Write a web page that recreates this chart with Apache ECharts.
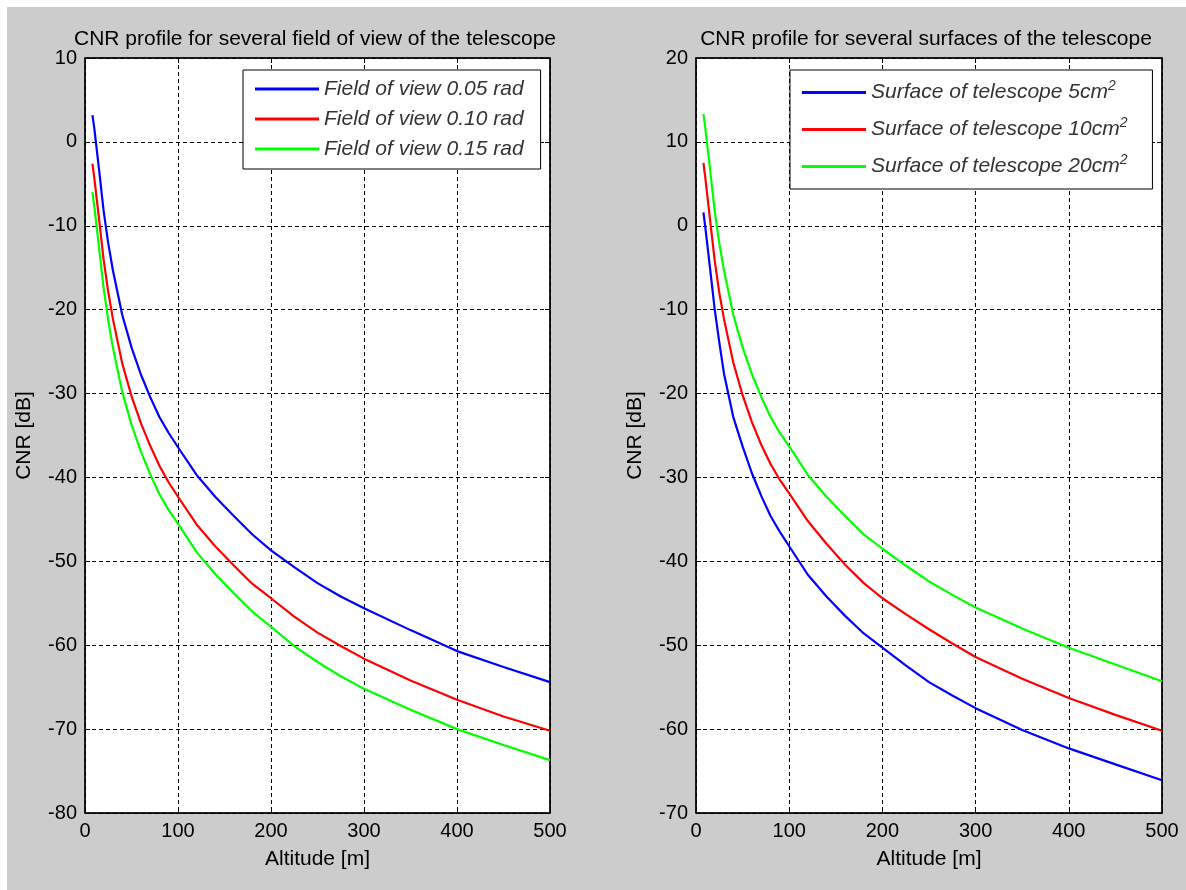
<!DOCTYPE html>
<html>
<head>
<meta charset="utf-8">
<title>CNR profile</title>
<script src="https://cdn.jsdelivr.net/npm/echarts@6/dist/echarts.min.js"></script>
<style>
  body { margin: 0; background: #fff; }
  #bg { position: absolute; left: 7px; top: 7px; width: 1179px; height: 883px; background: #cccccc; }
  #main { position: absolute; left: 0; top: 0; width: 1186px; height: 890px; }
</style>
</head>
<body>
<div id="bg"></div>
<div id="main"></div>
<script>
// altitude samples [m]
const altitude = [8, 10, 15, 20, 25, 30, 40, 50, 60, 70, 80, 90, 100, 120, 140, 160, 180, 200, 225, 250, 275, 300, 350, 400, 450, 500];

// left plot : CNR [dB] for several fields of view
const fov005 = [3.2, 1.6, -3.2, -8.2, -12.1, -15.3, -20.6, -24.5, -27.7, -30.4, -32.8, -34.7, -36.4, -39.7, -42.3, -44.6, -46.8, -48.7, -50.7, -52.6, -54.2, -55.6, -58.2, -60.7, -62.6, -64.4];
const fov010 = [-2.6, -4.3, -9.1, -14.0, -17.9, -21.1, -26.4, -30.3, -33.5, -36.2, -38.6, -40.6, -42.3, -45.6, -48.2, -50.5, -52.7, -54.4, -56.6, -58.5, -60.1, -61.6, -64.2, -66.5, -68.5, -70.2];
const fov015 = [-6.0, -7.7, -12.5, -17.4, -21.3, -24.5, -29.8, -33.7, -36.9, -39.6, -42.0, -43.9, -45.5, -48.9, -51.5, -53.8, -56.0, -57.8, -60.1, -62.0, -63.7, -65.2, -67.7, -70.0, -71.9, -73.7];

// right plot : CNR [dB] for several telescope surfaces
const surf5 = [1.6, -0.2, -5.0, -9.9, -13.9, -17.6, -22.8, -26.3, -29.5, -32.2, -34.6, -36.5, -38.2, -41.6, -44.2, -46.5, -48.6, -50.3, -52.4, -54.4, -56.0, -57.5, -60.1, -62.3, -64.2, -66.1];
const surf10 = [7.5, 5.7, 0.8, -4.1, -8.0, -11.1, -16.3, -20.2, -23.4, -26.1, -28.4, -30.3, -31.9, -35.2, -37.9, -40.4, -42.6, -44.4, -46.3, -48.1, -49.8, -51.4, -54.0, -56.3, -58.3, -60.2];
const surf20 = [13.3, 11.6, 6.8, 1.8, -2.1, -5.3, -10.6, -14.5, -17.7, -20.4, -22.8, -24.7, -26.3, -29.7, -32.3, -34.6, -36.8, -38.5, -40.5, -42.4, -44.0, -45.5, -48.0, -50.3, -52.3, -54.3];

const fovNames = ['Field of view 0.05 rad', 'Field of view 0.10 rad', 'Field of view 0.15 rad'];
const surfNames = ['Surface of telescope 5cm', 'Surface of telescope 10cm', 'Surface of telescope 20cm'];
const colors = ['#0000ff', '#ff0000', '#00ff00'];

const font = 'Liberation Sans, Arial, sans-serif';

function pairs(ys) {
  return altitude.map((x, i) => [x, ys[i]]);
}

function xAxes(gi) {
  return [
    {
      gridIndex: gi, type: 'value', min: 0, max: 500, interval: 100,
      name: 'Altitude [m]', nameLocation: 'middle', nameGap: 36,
      nameTextStyle: { fontSize: 21, color: '#000', fontFamily: font },
      axisLine: { show: true, onZero: false, lineStyle: { color: '#000', width: 1.5 } },
      axisTick: { inside: true, length: 5, lineStyle: { color: '#000' } },
      axisLabel: { fontSize: 20, color: '#000', fontFamily: font, margin: 8 },
      splitLine: { show: true, lineStyle: { color: '#000', type: [4, 3], width: 1 } }
    },
    {
      gridIndex: gi, type: 'value', min: 0, max: 500, interval: 100, position: 'top',
      axisLine: { show: true, onZero: false, lineStyle: { color: '#000', width: 1.5 } },
      axisTick: { inside: true, length: 5, lineStyle: { color: '#000' } },
      axisLabel: { show: false }, splitLine: { show: false }
    }
  ];
}

function yAxes(gi, min, max) {
  return [
    {
      gridIndex: gi, type: 'value', min: min, max: max, interval: 10,
      name: 'CNR [dB]', nameLocation: 'middle', nameGap: 50,
      nameTextStyle: { fontSize: 21, color: '#000', fontFamily: font },
      axisLine: { show: true, onZero: false, lineStyle: { color: '#000', width: 1.5 } },
      axisTick: { inside: true, length: 5, lineStyle: { color: '#000' } },
      axisLabel: { fontSize: 20, color: '#000', fontFamily: font, margin: 8 },
      splitLine: { show: true, lineStyle: { color: '#000', type: [4, 3], width: 1 } }
    },
    {
      gridIndex: gi, type: 'value', min: min, max: max, interval: 10, position: 'right',
      axisLine: { show: true, onZero: false, lineStyle: { color: '#000', width: 1.5 } },
      axisTick: { inside: true, length: 5, lineStyle: { color: '#000' } },
      axisLabel: { show: false }, splitLine: { show: false }
    }
  ];
}

const series = [];
[fov005, fov010, fov015].forEach((d, i) => {
  series.push({
    name: fovNames[i], type: 'line', xAxisIndex: 0, yAxisIndex: 0,
    data: pairs(d), showSymbol: false, smooth: false,
    lineStyle: { color: colors[i], width: 2.2 }, itemStyle: { color: colors[i] }
  });
});
[surf5, surf10, surf20].forEach((d, i) => {
  series.push({
    name: surfNames[i], type: 'line', xAxisIndex: 2, yAxisIndex: 2,
    data: pairs(d), showSymbol: false, smooth: false,
    lineStyle: { color: colors[i], width: 2.2 }, itemStyle: { color: colors[i] }
  });
});

const myChart = echarts.init(document.getElementById('main'));
myChart.setOption({
  animation: false,
  title: [
    { text: 'CNR profile for several field of view of the telescope', left: 310, top: 24, textAlign: 'center',
      textStyle: { fontSize: 21, fontWeight: 'normal', color: '#000', fontFamily: font } },
    { text: 'CNR profile for several surfaces of the telescope', left: 921, top: 24, textAlign: 'center',
      textStyle: { fontSize: 21, fontWeight: 'normal', color: '#000', fontFamily: font } }
  ],
  legend: [
    {
      data: fovNames, orient: 'vertical', left: 243, top: 70,
      backgroundColor: '#fff', borderColor: '#000', borderWidth: 1, borderRadius: 0,
      padding: [8, 17, 9, 12], itemGap: 8, itemWidth: 64, itemHeight: 3, icon: 'rect',
      textStyle: { fontSize: 21, fontStyle: 'italic', color: '#333', fontFamily: font, lineHeight: 22 }
    },
    {
      data: surfNames, orient: 'vertical', left: 790, top: 70,
      backgroundColor: '#fff', borderColor: '#000', borderWidth: 1, borderRadius: 0,
      padding: [9, 25, 9, 12], itemGap: 10, itemWidth: 64, itemHeight: 3, icon: 'rect',
      formatter: function (name) { return '{a|' + name + '}{s|2}'; },
      textStyle: {
        fontSize: 21, fontStyle: 'italic', color: '#333', fontFamily: font,
        rich: {
          a: { fontSize: 21, fontStyle: 'italic', color: '#333', fontFamily: font, lineHeight: 28 },
          s: { fontSize: 14, fontStyle: 'italic', color: '#333', fontFamily: font, lineHeight: 28, padding: [0, 0, 13, 0] }
        }
      }
    }
  ],
  grid: [
    { left: 85, top: 58, width: 465, height: 755, show: true, backgroundColor: '#fff', borderColor: '#000', borderWidth: 1 },
    { left: 696, top: 58, width: 466, height: 755, show: true, backgroundColor: '#fff', borderColor: '#000', borderWidth: 1 }
  ],
  xAxis: xAxes(0).concat(xAxes(1)),
  yAxis: yAxes(0, -80, 10).concat(yAxes(1, -70, 20)),
  series: series
});
</script>
</body>
</html>
